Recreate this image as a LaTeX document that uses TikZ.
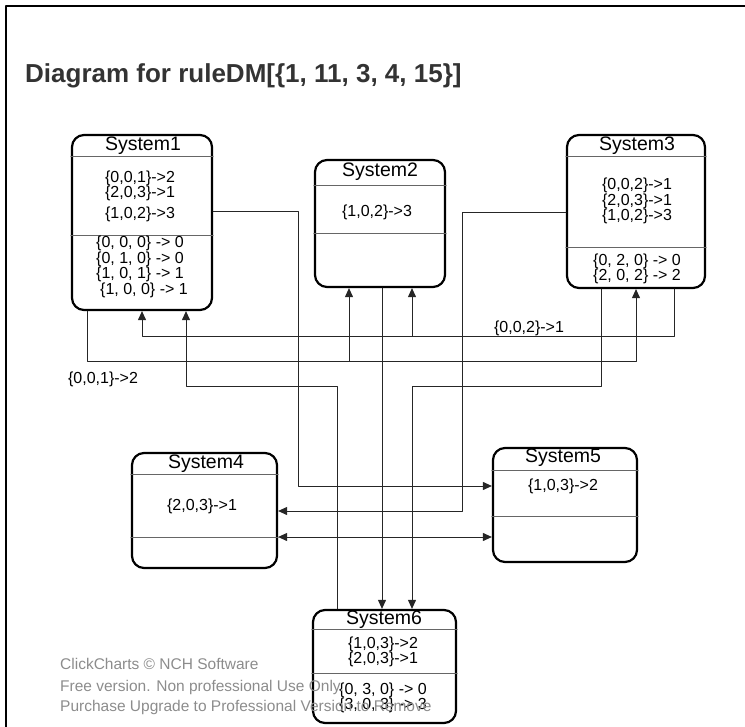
\documentclass[tikz,border=0pt]{standalone}
\usepackage{fontspec}
\setmainfont{Liberation Sans}
\usetikzlibrary{positioning,arrows.meta}
\definecolor{titlegray}{HTML}{333333}
\definecolor{markgray}{HTML}{8C8C8C}
\definecolor{rulegray}{HTML}{666666}

\begin{document}
\begin{tikzpicture}[x=1pt,y=-1pt, line cap=round, line join=round,
  sysbox/.style={draw=black, line width=2.2pt, rounded corners=12pt, fill=white, inner sep=0pt},
  sysname/.style={inner sep=0pt, font=\fontsize{19.5}{19.5}\selectfont},
  rules/.style={inner sep=0pt, align=center, font=\fontsize{16}{15.5}\selectfont},
  divline/.style={draw=rulegray, line width=1pt},
  conn/.style={draw=black!85, line width=0.9pt},
  arrowin/.style={-{Triangle[length=9pt,width=8pt]}},
  arrowboth/.style={{Triangle[length=9pt,width=8pt]}-{Triangle[length=9pt,width=8pt]}},
  watermark/.style={anchor=west, inner sep=0pt, text=markgray, font=\fontsize{15.5}{15.5}\selectfont}]
\useasboundingbox (0,0) rectangle (745,727);

% Frame
\draw[line width=2.5pt] (6,760) -- (6,6) -- (760,6);

% Title
\node[anchor=west, inner sep=0pt, text=titlegray, font=\bfseries\fontsize{26}{26}\selectfont] (title) at (25,76) {Diagram for ruleDM[\{1, 11, 3, 4, 15\}]};

% Boxes
\node[sysbox, minimum width=140pt, minimum height=175pt] (sys1) at (142,222.5) {};
\node[sysbox, minimum width=130pt, minimum height=127pt] (sys2) at (380,223.5) {};
\node[sysbox, minimum width=138pt, minimum height=153pt] (sys3) at (636,211.5) {};
\node[sysbox, minimum width=145pt, minimum height=115pt] (sys4) at (204.5,510.5) {};
\node[sysbox, minimum width=144pt, minimum height=114pt] (sys5) at (565,505) {};
\node[sysbox, minimum width=143pt, minimum height=113pt] (sys6) at (384.5,666.5) {};

% Header and divider lines
\draw[divline] (sys1.west |- 0,157) -- (sys1.east |- 0,157);
\draw[divline] (sys1.west |- 0,236) -- (sys1.east |- 0,236);
\draw[divline] (sys2.west |- 0,186) -- (sys2.east |- 0,186);
\draw[divline] (sys2.west |- 0,234) -- (sys2.east |- 0,234);
\draw[divline] (sys3.west |- 0,157) -- (sys3.east |- 0,157);
\draw[divline] (sys3.west |- 0,248) -- (sys3.east |- 0,248);
\draw[divline] (sys4.west |- 0,475) -- (sys4.east |- 0,475);
\draw[divline] (sys4.west |- 0,537) -- (sys4.east |- 0,537);
\draw[divline] (sys5.west |- 0,471) -- (sys5.east |- 0,471);
\draw[divline] (sys5.west |- 0,516) -- (sys5.east |- 0,516);
\draw[divline] (sys6.west |- 0,629) -- (sys6.east |- 0,629);
\draw[divline] (sys6.west |- 0,673) -- (sys6.east |- 0,673);

% Box texts
\node[sysname] (name1) at (143,146) {System1};
\node[rules] (in1) at (140,196) {\{0,0,1\}->2\\\{2,0,3\}->1\\[5pt]\{1,0,2\}->3};
\node[rules] (out1) at (140,267) {\{0, 0, 0\} -> 0\\\{0, 1, 0\} -> 0\\\{1, 0, 1\} -> 1\\\hspace{8pt}\{1, 0, 0\} -> 1};
\node[sysname] (name2) at (380,172) {System2};
\node[rules] (in2) at (377,212) {\{1,0,2\}->3};
\node[sysname] (name3) at (637,146) {System3};
\node[rules] (in3) at (637,201) {\{0,0,2\}->1\\\{2,0,3\}->1\\\{1,0,2\}->3};
\node[rules] (out3) at (637,269) {\{0, 2, 0\} -> 0\\\{2, 0, 2\} -> 2};
\node[sysname] (name4) at (206,464) {System4};
\node[rules] (in4) at (202,506) {\{2,0,3\}->1};
\node[sysname] (name5) at (563,458) {System5};
\node[rules] (in5) at (563,486) {\{1,0,3\}->2};
\node[sysname] (name6) at (384,620) {System6};
\node[rules] (in6) at (383,652) {\{1,0,3\}->2\\\{2,0,3\}->1};
\node[rules] (out6) at (383,698) {\{0, 3, 0\} -> 0\\\{3, 0, 3\} -> 3};

% Connectors
\coordinate (j12) at (349,361);
\coordinate (j32) at (412,336);
% System1 to System3, branch to System2
\draw[conn, arrowin] (sys1.south -| 87,0) |- (636,361) -- (sys3.south -| 636,0);
\draw[conn, arrowin] (j12) -- (sys2.south -| j12);
\node[rules] (lab13) at (103,379) {\{0,0,1\}->2};
% System3 to System1, branch to System2
\draw[conn, arrowin] (sys3.south -| 674,0) |- (142,336) -- (sys1.south -| 142,0);
\draw[conn, arrowin] (j32) -- (sys2.south -| j32);
\node[rules] (lab31) at (529,328) {\{0,0,2\}->1};
% System6 to System1
\draw[conn, arrowin] (sys6.north -| 337,0) |- (186,386) -- (sys1.south -| 186,0);
% System3 to System6
\draw[conn, arrowin] (sys3.south -| 601,0) |- (412,386) -- (sys6.north -| 412,0);
% System2 to System6
\draw[conn, arrowin] (sys2.south -| 382,0) -- (sys6.north -| 382,0);
% System1 to System5
\draw[conn, arrowin] (sys1.east |- 0,211) -| (298,486) -- (sys5.west |- 0,486);
% System3 to System4
\draw[conn, arrowin] (sys3.west |- 0,212) -| (462,511) -- (sys4.east |- 0,511);
% System4 and System5
\draw[conn, arrowboth] (sys4.east |- 0,537) -- (sys5.west |- 0,537);

% Watermark
\node[watermark] (mark1) at (60,664) {ClickCharts © NCH Software};
\node[watermark] (mark2) at (60,687) {Free version. Non professional Use Only.};
\node[watermark] (mark3) at (60,707) {Purchase Upgrade to Professional Version to Remove};
\end{tikzpicture}
\end{document}
